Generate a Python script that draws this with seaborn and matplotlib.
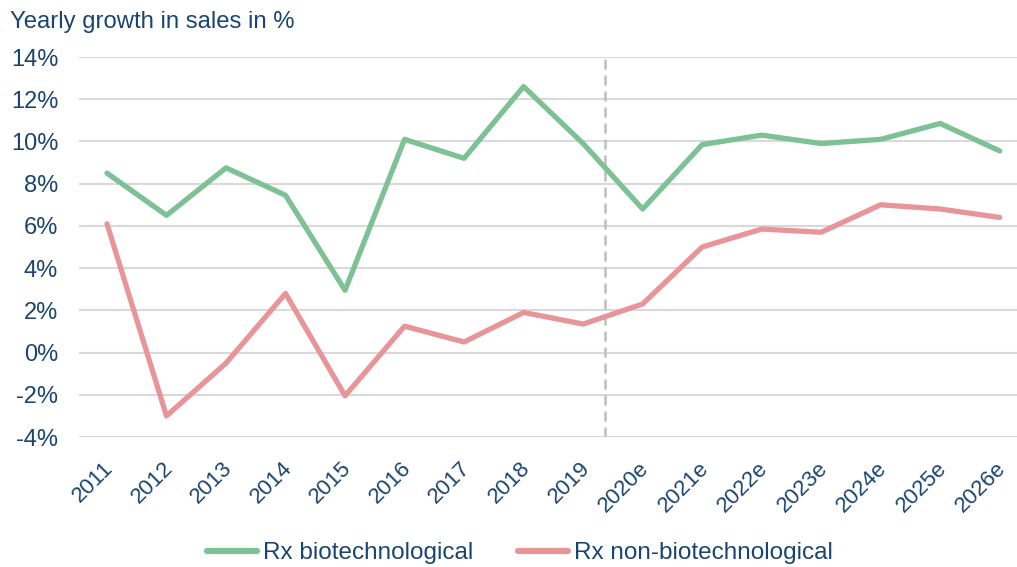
import matplotlib
matplotlib.use('Agg')
import matplotlib.pyplot as plt
import matplotlib.transforms as mtransforms
import seaborn as sns
import pandas as pd

# data
years = ['2011', '2012', '2013', '2014', '2015', '2016', '2017', '2018', '2019',
         '2020e', '2021e', '2022e', '2023e', '2024e', '2025e', '2026e']
biotech = [8.5, 6.5, 8.75, 7.45, 2.95, 10.1, 9.2, 12.6, 9.9,
           6.8, 9.85, 10.3, 9.9, 10.1, 10.85, 9.55]
non_biotech = [6.1, -3.0, -0.5, 2.8, -2.05, 1.25, 0.5, 1.9, 1.35,
               2.3, 5.0, 5.85, 5.7, 7.0, 6.8, 6.4]
series_names = ['Rx biotechnological', 'Rx non-biotechnological']

sns.set_style('white')
plt.rcParams['font.family'] = ['Liberation Sans', 'DejaVu Sans']

txt = '#1A4570'
green = '#7DC195'
red = '#E8959A'

df = pd.DataFrame({
    'pos': list(range(len(years))) * 2,
    'value': biotech + non_biotech,
    'series': [series_names[0]] * len(years) + [series_names[1]] * len(years),
})

fig = plt.figure(figsize=(10.17, 5.67), dpi=100)
ax = fig.add_axes([79 / 1017, 1 - 437 / 567, 1 - 79 / 1017, 380 / 567])

sns.lineplot(data=df, x='pos', y='value', hue='series',
             palette=[green, red], linewidth=3.8, ax=ax, legend=True)

ax.set_xlim(-0.47, 15.29)
ax.set_ylim(-4, 14)
ax.set_yticks(range(-4, 15, 2))
ax.set_yticklabels([f'{v}%' for v in range(-4, 15, 2)], fontsize=17, color=txt)
ax.set_xticks(range(len(years)))
ax.set_xticklabels(years, rotation=45, ha='right', rotation_mode='anchor',
                   fontsize=16, color=txt)
ax.tick_params(axis='x', length=0, pad=15)
ax.tick_params(axis='y', length=0, pad=15)
# nudge the rotated labels a little to the left
shift = mtransforms.ScaledTranslation(-4 / 100, 0, fig.dpi_scale_trans)
for lab in ax.get_xticklabels():
    lab.set_transform(lab.get_transform() + shift)

ax.grid(axis='y', color='#D9D9D9', linewidth=1.5)
ax.grid(axis='x', visible=False)
for s in ax.spines.values():
    s.set_visible(False)
ax.set_xlabel('')
ax.set_ylabel('')

ax.axvline(8.36, color='#BFBFBF', linestyle=(0, (4, 2.4)), linewidth=1.8, zorder=1)

fig.text(10 / 1017, 1 - 22 / 567, 'Yearly growth in sales in %', fontsize=17.2,
         color=txt, va='center', ha='left')

leg = ax.legend(loc='center', bbox_to_anchor=(0.47, (437 - 553) / 380),
                ncol=2, frameon=False, fontsize=17.5, handlelength=2.06,
                columnspacing=1.85, handletextpad=0.25)
for t in leg.get_texts():
    t.set_color(txt)
for h in leg.get_lines():
    h.set_linewidth(4.5)

fig.savefig('out.png', dpi=100)
